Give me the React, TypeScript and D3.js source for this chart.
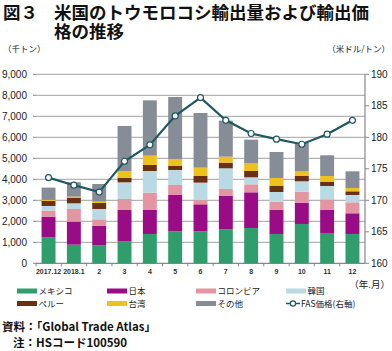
import React from "react";
import * as d3 from "d3";

const months = ["2017.12", "2018.1", "2", "3", "4", "5", "6", "7", "8", "9", "10", "11", "12"];
const mexico = [1238, 889, 857, 1047, 1397, 1524, 1524, 1619, 1682, 1397, 1873, 1444, 1397];
const japan = [984, 1095, 936, 1492, 1142, 1730, 1285, 1587, 1698, 1158, 1015, 1095, 984];
const colombia = [285, 603, 302, 524, 826, 476, 207, 333, 381, 381, 524, 508, 523];
const korea = [223, 270, 492, 794, 1031, 714, 825, 984, 334, 460, 492, 635, 350];
const peru = [238, 270, 286, 222, 286, 206, 317, 270, 301, 302, 254, 206, 174];
const taiwan = [48, 47, 63, 317, 444, 302, 397, 285, 365, 365, 222, 270, 159];
const other = [587, 683, 841, 2142, 2634, 2967, 2602, 1715, 1127, 1238, 1350, 984, 793];
const fasPrice = [173.6, 172.4, 171.3, 176.2, 178.8, 183.4, 186.3, 182.7, 180.6, 179.7, 178.9, 180.5, 182.7];

const seriesNames = ["メキシコ", "日本", "コロンビア", "韓国", "ペルー", "台湾", "その他"];
const seriesData = [mexico, japan, colombia, korea, peru, taiwan, other];
const colors = ["#2f9e6c", "#990c85", "#e396a2", "#b9d9e5", "#6a3014", "#eec11c", "#878d96"];
const leftTicks = [0, 1000, 2000, 3000, 4000, 5000, 6000, 7000, 8000, 9000];
const rightTicks = [160, 165, 170, 175, 180, 185, 190];
const lineColor = "#1e5864";

const JP = "'Noto Sans CJK JP', 'Noto Sans', sans-serif";
const NUM = "'Liberation Sans', Arial, sans-serif";

export default function App() {
  const left = 36, right = 365, top = 74.3, bottom = 263.3;
  const x = d3.scaleBand<string>().domain(months).range([left, right]).paddingInner(0.45).paddingOuter(0.22);
  const y = d3.scaleLinear().domain([0, 9000]).range([bottom, top]);
  const y2 = d3.scaleLinear().domain([160, 190]).range([bottom, top]);

  const rows = months.map((m, i) => {
    const r: any = { m };
    seriesNames.forEach((s, k) => (r[s] = seriesData[k][i]));
    return r;
  });
  const stacked = d3.stack<any>().keys(seriesNames)(rows);
  const line = d3.line<number>().x((_, i) => (x(months[i]) as number) + x.bandwidth() / 2).y((d) => y2(d));

  const legendCols = [17, 107, 196, 286];
  const step = (right - left) / months.length;

  return (
    <svg width={392} height={351} style={{ position: "absolute", left: 0, top: 0, background: "#fff" }}>
      <text x={3} y={18.5} fontFamily={JP} fontWeight={700} fontSize={17.5} fill="#111">図３</text>
      <text x={54} y={18.5} fontFamily={JP} fontWeight={700} fontSize={17.5} fill="#111">米国のトウモロコシ輸出量および輸出価</text>
      <text x={54} y={37.5} fontFamily={JP} fontWeight={700} fontSize={17.5} fill="#111">格の推移</text>

      <text x={3} y={52} fontFamily={JP} fontSize={8.5} fill="#222">（千トン）</text>
      <text x={390} y={52} fontFamily={JP} fontSize={8.5} fill="#222" textAnchor="end">（米ドル/トン）</text>

      {leftTicks.map((t) => (
        <g key={"l" + t}>
          <line x1={left} x2={right} y1={y(t)} y2={y(t)} stroke={t === 0 ? "#888" : "#b4b4b4"} strokeWidth={1.2} />
          <line x1={left - 3} x2={left} y1={y(t)} y2={y(t)} stroke="#888" />
          <text x={27} y={y(t) + 3.5} fontFamily={NUM} fontSize={10} textAnchor="end" fill="#222">
            {d3.format(",")(t)}
          </text>
        </g>
      ))}
      <line x1={right} x2={right} y1={top} y2={bottom} stroke="#888" strokeWidth={1.2} />
      {rightTicks.map((t) => (
        <g key={"r" + t}>
          <line x1={right} x2={right + 4} y1={y2(t)} y2={y2(t)} stroke="#888" />
          <text x={371} y={y2(t) + 3.5} fontFamily={NUM} fontSize={10} fill="#222">{t}</text>
        </g>
      ))}
      {months.map((m, i) => (
        <line key={"bt" + m} x1={left + step * i} x2={left + step * i} y1={bottom} y2={bottom + 3} stroke="#888" />
      ))}

      {stacked.map((layer, k) => (
        <g key={layer.key} fill={colors[k]}>
          {layer.map((d, i) => (
            <rect key={i} x={x(months[i])} width={x.bandwidth()} y={y(d[1])} height={y(d[0]) - y(d[1])} />
          ))}
        </g>
      ))}

      <path d={line(fasPrice) || ""} fill="none" stroke={lineColor} strokeWidth={2.2} />
      {fasPrice.map((p, i) => (
        <circle key={i} cx={(x(months[i]) as number) + x.bandwidth() / 2} cy={y2(p)} r={3} fill="#fff" stroke={lineColor} strokeWidth={1.2} />
      ))}

      {months.map((m) => (
        <text key={"xt" + m} x={(x(m) as number) + x.bandwidth() / 2} y={274} fontFamily={NUM} fontSize={7} fontWeight={700} textAnchor="middle" fill="#333">
          {m}
        </text>
      ))}
      <text x={390} y={288} fontFamily={JP} fontSize={9.5} textAnchor="end" fill="#222">（年.月）</text>

      {seriesNames.map((s, k) => {
        const row = k < 4 ? 0 : 1;
        const col = k < 4 ? k : k - 4;
        const cy = row === 0 ? 291 : 303.5;
        const lx = legendCols[col];
        return (
          <g key={"lg" + s}>
            <rect x={lx} y={cy - 2.5} width={20} height={5} fill={colors[k]} />
            <text x={lx + 21.5} y={cy + 3} fontFamily={JP} fontSize={8.5} fill="#222">{s}</text>
          </g>
        );
      })}
      <g>
        <line x1={286} x2={300} y1={303.5} y2={303.5} stroke={lineColor} strokeWidth={1.5} />
        <circle cx={293} cy={303.5} r={2.6} fill="#fff" stroke={lineColor} strokeWidth={1.2} />
        <text x={301} y={306.5} fontFamily={JP} fontSize={8.5} fill="#222">FAS価格(右軸)</text>
      </g>

      <text x={2} y={331} fontFamily={JP} fontSize={11.5} fontWeight={700} fill="#111">資料：「Global Trade Atlas」</text>
      <text x={13} y={347} fontFamily={JP} fontSize={11.5} fontWeight={700} fill="#111">注：HSコード100590</text>
    </svg>
  );
}
